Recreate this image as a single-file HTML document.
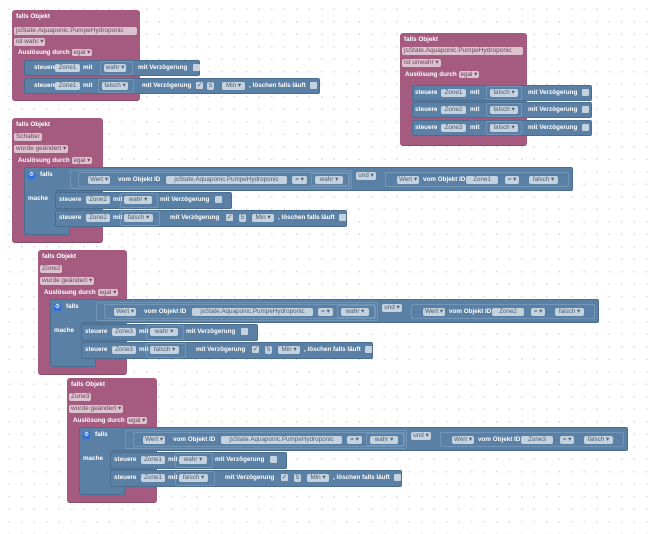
<!DOCTYPE html>
<html><head><meta charset="utf-8"><style>
body{margin:0;width:657px;height:534px;overflow:hidden;background:#fff;
background-image:radial-gradient(circle,#d4d4d4 0.6px,transparent 0.9px);background-size:12.5px 12.5px;background-position:3px 3px;
font-family:"Liberation Sans",sans-serif;}
.g{position:absolute;left:0;top:0}
.p{position:absolute;background:#a55b80;border-radius:3px;border-bottom:1px solid #8a4a6a}
.b{position:absolute;background:#5b80a5;border:1px solid #4b6d8f;border-radius:2px;box-sizing:border-box}
.t{position:absolute;color:#fff;font-size:6.3px;font-weight:bold;white-space:nowrap;line-height:8px}
.fp{position:absolute;background:#dcc1cf;color:#6a4a5a;font-size:6.5px;line-height:8px;padding:0 2px;border-radius:2px;white-space:nowrap}
.fb{position:absolute;background:#c4d1de;color:#4d5d70;font-size:6.3px;line-height:8px;padding:0 1px;border-radius:2px;white-space:nowrap;box-sizing:border-box;text-align:center;overflow:hidden}
.v{position:absolute;border:1px solid #7396b8;border-radius:2px;box-sizing:border-box}
.cb{position:absolute;width:7px;height:7px;background:#c4d1de;border-radius:1px;color:#4d5d70;font-size:7px;line-height:7px;text-align:center}
.ic{position:absolute;width:7px;height:7px;background:#2f6fd6;border-radius:1px;color:#fff;font-size:6px;line-height:7px;text-align:center}
</style></head><body>

<!-- Block 1 -->
<div class="p" style="left:12px;top:10px;width:128px;height:90px"></div>
<div class="t" style="left:16px;top:13px">falls Objekt</div>
<div class="fp" style="left:14px;top:27px;width:119px">jsState.Aquaponic.PumpeHydroponic</div>
<div class="fp" style="left:14px;top:38px">ist wahr ▾</div>
<div class="t" style="left:18px;top:49px">Auslösung durch <span style="background:#dcc1cf;color:#6a4a5a;font-weight:normal;padding:0 2px;border-radius:2px">egal ▾</span></div>
<div class="b" style="left:24px;top:60px;width:176px;height:16px"></div>
<div class="t" style="left:34px;top:64px">steuere</div><div class="fb" style="left:55px;top:64px;width:25px">Zone1</div><div class="t" style="left:83px;top:64px">mit</div>
<div class="v" style="left:100px;top:61px;width:33px;height:14px"></div><div class="fb" style="left:104px;top:64px;width:22px">wahr ▾</div>
<div class="t" style="left:138px;top:64px">mit Verzögerung</div><div class="cb" style="left:193px;top:64px"></div>
<div class="b" style="left:24px;top:78px;width:296px;height:16px"></div>
<div class="t" style="left:34px;top:82px">steuere</div><div class="fb" style="left:55px;top:82px;width:25px">Zone1</div><div class="t" style="left:83px;top:82px">mit</div>
<div class="v" style="left:98px;top:79px;width:36px;height:14px"></div><div class="fb" style="left:102px;top:82px;width:26px">falsch ▾</div>
<div class="t" style="left:142px;top:82px">mit Verzögerung</div><div class="cb" style="left:196px;top:82px">✓</div>
<div class="fb" style="left:207px;top:82px;width:7px">5</div><div class="fb" style="left:222px;top:82px;width:23px">Min ▾</div>
<div class="t" style="left:249px;top:82px">, löschen falls läuft</div><div class="cb" style="left:310px;top:82px"></div>

<!-- Block 2 -->
<div class="p" style="left:400px;top:33px;width:127px;height:112px"></div>
<div class="t" style="left:404px;top:36px">falls Objekt</div>
<div class="fp" style="left:402px;top:47px;width:117px">jsState.Aquaponic.PumpeHydroponic</div>
<div class="fp" style="left:402px;top:59px">ist unwahr ▾</div>
<div class="t" style="left:405px;top:71px">Auslösung durch <span style="background:#dcc1cf;color:#6a4a5a;font-weight:normal;padding:0 2px;border-radius:2px">egal ▾</span></div>
<div class="b" style="left:412px;top:85px;width:180px;height:16px"></div>
<div class="b" style="left:412px;top:102px;width:180px;height:16px"></div>
<div class="b" style="left:412px;top:120px;width:180px;height:16px"></div>
<div class="t" style="left:415px;top:89px">steuere</div><div class="fb" style="left:441px;top:89px;width:25px">Zone1</div><div class="t" style="left:470px;top:89px">mit</div><div class="v" style="left:486px;top:86px;width:36px;height:14px"></div><div class="fb" style="left:490px;top:89px;width:28px">falsch ▾</div><div class="t" style="left:528px;top:89px">mit Verzögerung</div><div class="cb" style="left:582px;top:89px"></div>
<div class="t" style="left:415px;top:106px">steuere</div><div class="fb" style="left:441px;top:106px;width:25px">Zone2</div><div class="t" style="left:470px;top:106px">mit</div><div class="v" style="left:486px;top:103px;width:36px;height:14px"></div><div class="fb" style="left:490px;top:106px;width:28px">falsch ▾</div><div class="t" style="left:528px;top:106px">mit Verzögerung</div><div class="cb" style="left:582px;top:106px"></div>
<div class="t" style="left:415px;top:124px">steuere</div><div class="fb" style="left:441px;top:124px;width:25px">Zone3</div><div class="t" style="left:470px;top:124px">mit</div><div class="v" style="left:486px;top:121px;width:36px;height:14px"></div><div class="fb" style="left:490px;top:124px;width:28px">falsch ▾</div><div class="t" style="left:528px;top:124px">mit Verzögerung</div><div class="cb" style="left:582px;top:124px"></div>

<!-- Block 3 -->
<div class="g">
<div class="p" style="left:12px;top:118px;width:91px;height:124px"></div>
<div class="t" style="left:16px;top:121px">falls Objekt</div>
<div class="fp" style="left:14px;top:133px">Schalter</div>
<div class="fp" style="left:14px;top:145px">wurde geändert ▾</div>
<div class="t" style="left:18px;top:157px">Auslösung durch <span style="background:#dcc1cf;color:#6a4a5a;font-weight:normal;padding:0 2px;border-radius:2px">egal ▾</span></div>
<div class="b" style="left:24px;top:167px;width:549px;height:24px"></div>
<div class="b" style="left:24px;top:167px;width:32px;height:68px;border-right:none"></div>
<div class="b" style="left:24px;top:226px;width:46px;height:9px;border-top:none"></div>
<div class="ic" style="left:28px;top:172px">⚙</div><div class="t" style="left:40px;top:171px">falls</div>
<div class="t" style="left:28px;top:195px">mache</div>
<div class="v" style="left:70px;top:170px;width:282px;height:19px"></div>
<div class="v" style="left:78px;top:172px;width:272px;height:15px"></div>
<div class="fb" style="left:88px;top:176px;width:22px">Wert ▾</div>
<div class="t" style="left:118px;top:176px">vom Objekt ID</div>
<div class="fb" style="left:166px;top:176px;width:121px">jsState.Aquaponic.PumpeHydroponic</div>
<div class="fb" style="left:292px;top:176px;width:15px">= ▾</div>
<div class="v" style="left:311px;top:173px;width:38px;height:13px"></div><div class="fb" style="left:315px;top:176px;width:28px">wahr ▾</div>
<div class="fb" style="left:356px;top:172px;width:20px">und ▾</div>
<div class="v" style="left:385px;top:172px;width:184px;height:15px"></div>
<div class="fb" style="left:397px;top:176px;width:22px">Wert ▾</div>
<div class="t" style="left:423px;top:176px">vom Objekt ID</div>
<div class="fb" style="left:466px;top:176px;width:32px">Zone1</div>
<div class="fb" style="left:505px;top:176px;width:14px">= ▾</div>
<div class="fb" style="left:529px;top:176px;width:29px">falsch ▾</div>
<div class="b" style="left:55px;top:192px;width:177px;height:17px"></div>
<div class="t" style="left:59px;top:196px">steuere</div><div class="fb" style="left:86px;top:196px;width:24px">Zone2</div><div class="t" style="left:113px;top:196px">mit</div>
<div class="v" style="left:120px;top:193px;width:38px;height:15px"></div><div class="fb" style="left:124px;top:196px;width:28px">wahr ▾</div>
<div class="t" style="left:160px;top:196px">mit Verzögerung</div><div class="cb" style="left:215px;top:196px"></div>
<div class="b" style="left:55px;top:210px;width:292px;height:17px"></div>
<div class="t" style="left:59px;top:214px">steuere</div><div class="fb" style="left:86px;top:214px;width:24px">Zone2</div><div class="t" style="left:113px;top:214px">mit</div>
<div class="v" style="left:120px;top:211px;width:40px;height:15px"></div><div class="fb" style="left:124px;top:214px;width:29px">falsch ▾</div>
<div class="t" style="left:170px;top:214px">mit Verzögerung</div><div class="cb" style="left:226px;top:214px">✓</div>
<div class="fb" style="left:239px;top:214px;width:7px">5</div><div class="fb" style="left:252px;top:214px;width:22px">Min ▾</div>
<div class="t" style="left:278px;top:214px">, löschen falls läuft</div><div class="cb" style="left:339px;top:214px"></div>
</div>

<!-- Block 4 -->
<div class="g" style="left:26px;top:132px">
<div class="p" style="left:12px;top:118px;width:89px;height:124px"></div>
<div class="t" style="left:16px;top:121px">falls Objekt</div>
<div class="fp" style="left:14px;top:133px">Zone2</div>
<div class="fp" style="left:14px;top:145px">wurde geändert ▾</div>
<div class="t" style="left:18px;top:157px">Auslösung durch <span style="background:#dcc1cf;color:#6a4a5a;font-weight:normal;padding:0 2px;border-radius:2px">egal ▾</span></div>
<div class="b" style="left:24px;top:167px;width:549px;height:24px"></div>
<div class="b" style="left:24px;top:167px;width:32px;height:68px;border-right:none"></div>
<div class="b" style="left:24px;top:226px;width:46px;height:9px;border-top:none"></div>
<div class="ic" style="left:28px;top:172px">⚙</div><div class="t" style="left:40px;top:171px">falls</div>
<div class="t" style="left:28px;top:195px">mache</div>
<div class="v" style="left:70px;top:170px;width:282px;height:19px"></div>
<div class="v" style="left:78px;top:172px;width:272px;height:15px"></div>
<div class="fb" style="left:88px;top:176px;width:22px">Wert ▾</div>
<div class="t" style="left:118px;top:176px">vom Objekt ID</div>
<div class="fb" style="left:166px;top:176px;width:121px">jsState.Aquaponic.PumpeHydroponic</div>
<div class="fb" style="left:292px;top:176px;width:15px">= ▾</div>
<div class="v" style="left:311px;top:173px;width:38px;height:13px"></div><div class="fb" style="left:315px;top:176px;width:28px">wahr ▾</div>
<div class="fb" style="left:356px;top:172px;width:20px">und ▾</div>
<div class="v" style="left:385px;top:172px;width:184px;height:15px"></div>
<div class="fb" style="left:397px;top:176px;width:22px">Wert ▾</div>
<div class="t" style="left:423px;top:176px">vom Objekt ID</div>
<div class="fb" style="left:466px;top:176px;width:32px">Zone2</div>
<div class="fb" style="left:505px;top:176px;width:14px">= ▾</div>
<div class="fb" style="left:529px;top:176px;width:29px">falsch ▾</div>
<div class="b" style="left:55px;top:192px;width:177px;height:17px"></div>
<div class="t" style="left:59px;top:196px">steuere</div><div class="fb" style="left:86px;top:196px;width:24px">Zone3</div><div class="t" style="left:113px;top:196px">mit</div>
<div class="v" style="left:120px;top:193px;width:38px;height:15px"></div><div class="fb" style="left:124px;top:196px;width:28px">wahr ▾</div>
<div class="t" style="left:160px;top:196px">mit Verzögerung</div><div class="cb" style="left:215px;top:196px"></div>
<div class="b" style="left:55px;top:210px;width:292px;height:17px"></div>
<div class="t" style="left:59px;top:214px">steuere</div><div class="fb" style="left:86px;top:214px;width:24px">Zone3</div><div class="t" style="left:113px;top:214px">mit</div>
<div class="v" style="left:120px;top:211px;width:40px;height:15px"></div><div class="fb" style="left:124px;top:214px;width:29px">falsch ▾</div>
<div class="t" style="left:170px;top:214px">mit Verzögerung</div><div class="cb" style="left:226px;top:214px">✓</div>
<div class="fb" style="left:239px;top:214px;width:7px">5</div><div class="fb" style="left:252px;top:214px;width:22px">Min ▾</div>
<div class="t" style="left:278px;top:214px">, löschen falls läuft</div><div class="cb" style="left:339px;top:214px"></div>
</div>

<!-- Block 5 -->
<div class="g" style="left:55px;top:260px">
<div class="p" style="left:12px;top:118px;width:90px;height:124px"></div>
<div class="t" style="left:16px;top:121px">falls Objekt</div>
<div class="fp" style="left:14px;top:133px">Zone3</div>
<div class="fp" style="left:14px;top:145px">wurde geändert ▾</div>
<div class="t" style="left:18px;top:157px">Auslösung durch <span style="background:#dcc1cf;color:#6a4a5a;font-weight:normal;padding:0 2px;border-radius:2px">egal ▾</span></div>
<div class="b" style="left:24px;top:167px;width:549px;height:24px"></div>
<div class="b" style="left:24px;top:167px;width:32px;height:68px;border-right:none"></div>
<div class="b" style="left:24px;top:226px;width:46px;height:9px;border-top:none"></div>
<div class="ic" style="left:28px;top:172px">⚙</div><div class="t" style="left:40px;top:171px">falls</div>
<div class="t" style="left:28px;top:195px">mache</div>
<div class="v" style="left:70px;top:170px;width:282px;height:19px"></div>
<div class="v" style="left:78px;top:172px;width:272px;height:15px"></div>
<div class="fb" style="left:88px;top:176px;width:22px">Wert ▾</div>
<div class="t" style="left:118px;top:176px">vom Objekt ID</div>
<div class="fb" style="left:166px;top:176px;width:121px">jsState.Aquaponic.PumpeHydroponic</div>
<div class="fb" style="left:292px;top:176px;width:15px">= ▾</div>
<div class="v" style="left:311px;top:173px;width:38px;height:13px"></div><div class="fb" style="left:315px;top:176px;width:28px">wahr ▾</div>
<div class="fb" style="left:356px;top:172px;width:20px">und ▾</div>
<div class="v" style="left:385px;top:172px;width:184px;height:15px"></div>
<div class="fb" style="left:397px;top:176px;width:22px">Wert ▾</div>
<div class="t" style="left:423px;top:176px">vom Objekt ID</div>
<div class="fb" style="left:466px;top:176px;width:32px">Zone3</div>
<div class="fb" style="left:505px;top:176px;width:14px">= ▾</div>
<div class="fb" style="left:529px;top:176px;width:29px">falsch ▾</div>
<div class="b" style="left:55px;top:192px;width:177px;height:17px"></div>
<div class="t" style="left:59px;top:196px">steuere</div><div class="fb" style="left:86px;top:196px;width:24px">Zone1</div><div class="t" style="left:113px;top:196px">mit</div>
<div class="v" style="left:120px;top:193px;width:38px;height:15px"></div><div class="fb" style="left:124px;top:196px;width:28px">wahr ▾</div>
<div class="t" style="left:160px;top:196px">mit Verzögerung</div><div class="cb" style="left:215px;top:196px"></div>
<div class="b" style="left:55px;top:210px;width:292px;height:17px"></div>
<div class="t" style="left:59px;top:214px">steuere</div><div class="fb" style="left:86px;top:214px;width:24px">Zone1</div><div class="t" style="left:113px;top:214px">mit</div>
<div class="v" style="left:120px;top:211px;width:40px;height:15px"></div><div class="fb" style="left:124px;top:214px;width:29px">falsch ▾</div>
<div class="t" style="left:170px;top:214px">mit Verzögerung</div><div class="cb" style="left:226px;top:214px">✓</div>
<div class="fb" style="left:239px;top:214px;width:7px">5</div><div class="fb" style="left:252px;top:214px;width:22px">Min ▾</div>
<div class="t" style="left:278px;top:214px">, löschen falls läuft</div><div class="cb" style="left:339px;top:214px"></div>
</div>

</body></html>
